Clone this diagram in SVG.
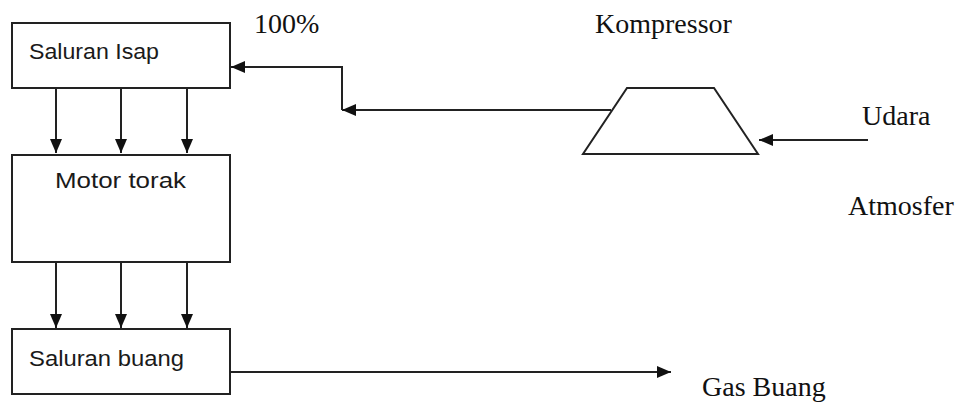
<svg xmlns="http://www.w3.org/2000/svg" width="956" height="403" viewBox="0 0 956 403">
<style>
.box{fill:#fff;stroke:#222;stroke-width:2}
.ln{fill:none;stroke:#222;stroke-width:2}
.sans{font-family:"Liberation Sans",Arial,sans-serif;font-size:22px;fill:#1a1a1a}
.serif{font-family:"Liberation Serif","Times New Roman",serif;font-size:28px;fill:#111}
</style>
<defs>
<marker id="ah" viewBox="0 0 14 12" refX="14" refY="6" markerWidth="14" markerHeight="12" markerUnits="userSpaceOnUse" orient="auto">
<path d="M0,0 L14,6 L0,12 Z" fill="#111"/>
</marker>
</defs>
<rect width="956" height="403" fill="#fff"/>
<g id="connectors">
<path class="ln" d="M56,88 V153" marker-end="url(#ah)"/>
<path class="ln" d="M121,88 V153" marker-end="url(#ah)"/>
<path class="ln" d="M187,88 V153" marker-end="url(#ah)"/>
<path class="ln" d="M56,262 V328" marker-end="url(#ah)"/>
<path class="ln" d="M121,262 V328" marker-end="url(#ah)"/>
<path class="ln" d="M187,262 V328" marker-end="url(#ah)"/>
<path class="ln" d="M611,110 H342" marker-end="url(#ah)"/>
<path class="ln" d="M342,110 V67 H231" marker-end="url(#ah)"/>
<path class="ln" d="M868,140 H759" marker-end="url(#ah)"/>
<path class="ln" d="M230,372 H671" marker-end="url(#ah)"/>
</g>
<g id="saluran-isap">
<rect class="box" x="12" y="23" width="218" height="65"/>
<text class="sans" x="29" y="59" textLength="130" lengthAdjust="spacingAndGlyphs">Saluran Isap</text>
</g>
<g id="motor-torak">
<rect class="box" x="12" y="155" width="218" height="107"/>
<text class="sans" x="55" y="188" textLength="131" lengthAdjust="spacingAndGlyphs">Motor torak</text>
</g>
<g id="saluran-buang">
<rect class="box" x="12" y="329" width="218" height="65"/>
<text class="sans" x="29" y="366" textLength="155" lengthAdjust="spacingAndGlyphs">Saluran buang</text>
</g>
<g id="kompressor">
<polygon class="box" points="627,88 714,88 758,154 583,154"/>
<text class="serif" x="595" y="33">Kompressor</text>
</g>
<g id="labels">
<text class="serif" x="254" y="33">100%</text>
<text class="serif" x="862" y="125">Udara</text>
<text class="serif" x="848" y="215">Atmosfer</text>
<text class="serif" x="702" y="396">Gas Buang</text>
</g>
</svg>
